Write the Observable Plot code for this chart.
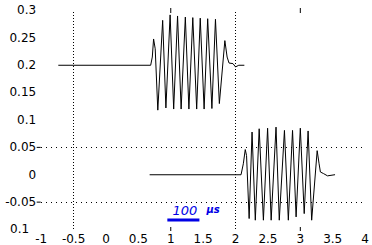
<!DOCTYPE html>
<html>
<head>
<meta charset="utf-8">
<script src="https://cdn.jsdelivr.net/npm/d3@7"></script>
<script src="https://cdn.jsdelivr.net/npm/@observablehq/plot@0.6"></script>
<style>
  html, body { margin: 0; padding: 0; background: #fff; }
  #chart svg { display: block; }
</style>
</head>
<body>
<div id="chart"></div>
<script>
// Upper trace (offset 0.2)
const topX = [-0.73, 0.69, 0.715, 0.735, 0.76, 0.80, 0.875, 0.925, 0.99, 1.045, 1.105, 1.16, 1.225, 1.28, 1.34, 1.40, 1.455, 1.515, 1.57, 1.635, 1.69, 1.75, 1.835, 1.87, 1.90, 1.96, 2.0, 2.05, 2.13];
const topY = [0.2, 0.2, 0.215, 0.248, 0.23, 0.118, 0.282, 0.122, 0.292, 0.12, 0.29, 0.12, 0.288, 0.12, 0.287, 0.12, 0.286, 0.12, 0.285, 0.121, 0.284, 0.13, 0.245, 0.215, 0.204, 0.203, 0.197, 0.2, 0.2];
// Lower trace (offset 0)
const botX = [0.68, 2.085, 2.12, 2.15, 2.17, 2.21, 2.255, 2.305, 2.365, 2.43, 2.495, 2.55, 2.625, 2.675, 2.755, 2.815, 2.88, 2.935, 3.0, 3.06, 3.12, 3.175, 3.26, 3.29, 3.31, 3.36, 3.42, 3.53];
const botY = [0, 0, 0.02, 0.046, 0.035, -0.08, 0.078, -0.083, 0.084, -0.083, 0.085, -0.083, 0.087, -0.083, 0.081, -0.083, 0.081, -0.077, 0.085, -0.071, 0.08, -0.083, 0.044, 0.02, 0.005, 0.002, -0.002, 0];

const xTicks = [-1, -0.5, 0, 0.5, 1, 1.5, 2, 2.5, 3, 3.5, 4];
const xTickLabels = ["-1", "-0.5", "0", "0.5", "1", "1.5", "2", "2.5", "3", "3.5", "4"];
const yTicks = [0.3, 0.25, 0.2, 0.15, 0.1, 0.05, 0, -0.05];
const yTickLabels = ["0.3", "0.25", "0.2", "0.15", "0.1", "0.05", "0", "-0.05"];
const yBottomTick = -0.1;
const yBottomLabel = "0.1";
const gridX = [-0.5, 2];
const gridY = [0.05, -0.05];
const markedX = [1, 3];

// scale bar annotation
const scaleBarX = [0.955, 1.45];
const scaleBarY = -0.0826;
const scaleText = "100";
const scaleTextPos = [1.217, -0.0653];
const scaleUnit = "µs";
const scaleUnitPos = [1.653, -0.0644];

const xDomain = [xTicks[0], xTicks[xTicks.length - 1]];
const yDomain = [yBottomTick, yTicks[0]];

const topData = topX.map((x, i) => ({x, y: topY[i]}));
const botData = botX.map((x, i) => ({x, y: botY[i]}));

const font = "DejaVu Sans, sans-serif";

const plot = Plot.plot({
  width: 372,
  height: 245,
  marginLeft: 40.7,
  marginRight: 7.4,
  marginTop: 12,
  marginBottom: 18,
  style: {fontFamily: font, fontSize: "12px", color: "#000", background: "#fff"},
  x: {domain: xDomain, range: [40.7, 364.6], axis: null},
  y: {domain: yDomain, range: [229, 10], axis: null},
  marks: [
    // dotted grid
    Plot.ruleX(gridX, {y1: yDomain[0], y2: yDomain[1], stroke: "#000", strokeWidth: 1, strokeDasharray: "1,2", shapeRendering: "crispEdges"}),
    Plot.ruleY(gridY, {x1: xDomain[0], x2: xDomain[1], stroke: "#000", strokeWidth: 1, strokeDasharray: "1,4", shapeRendering: "crispEdges"}),
    // y ticks at grid rows
    Plot.axisY(gridY, {anchor: "left", label: null, tickSize: 4, tickFormat: () => "", stroke: "#000"}),
    // y labels
    Plot.axisY(yTicks, {anchor: "left", label: null, tickSize: 0, tickPadding: 5, tickFormat: d => yTickLabels[yTicks.indexOf(d)], fill: "#000", fontSize: 12}),
    Plot.text([yBottomTick], {x: xDomain[0], y: d => d, text: () => yBottomLabel, textAnchor: "end", dx: -12, fill: "#000", fontSize: 12}),
    // x ticks
    Plot.axisX(markedX, {anchor: "bottom", label: null, tickSize: 4, tickFormat: () => "", stroke: "#000"}),
    Plot.axisX(markedX, {anchor: "top", label: null, tickSize: 5, tickFormat: () => "", stroke: "#000"}),
    // x labels
    Plot.axisX(xTicks, {anchor: "bottom", label: null, tickSize: 0, tickPadding: 7, tickFormat: d => xTickLabels[xTicks.indexOf(d)], fill: "#000", fontSize: 12}),
    // traces
    Plot.line(topData, {x: "x", y: "y", stroke: "#000", strokeWidth: 1}),
    Plot.line(botData, {x: "x", y: "y", stroke: "#000", strokeWidth: 1}),
    // scale bar
    Plot.ruleY([scaleBarY], {x1: scaleBarX[0], x2: scaleBarX[1], stroke: "#0000e6", strokeWidth: 3}),
    Plot.text([scaleTextPos], {x: d => d[0], y: d => d[1], text: () => scaleText, fill: "#0000e6", fontSize: 13, fontStyle: "italic"}),
    Plot.text([scaleUnitPos], {x: d => d[0], y: d => d[1], text: () => scaleUnit, fill: "#0000e6", fontSize: 10, fontStyle: "italic", fontWeight: "bold"})
  ]
});
document.getElementById("chart").appendChild(plot);
</script>
</body>
</html>
